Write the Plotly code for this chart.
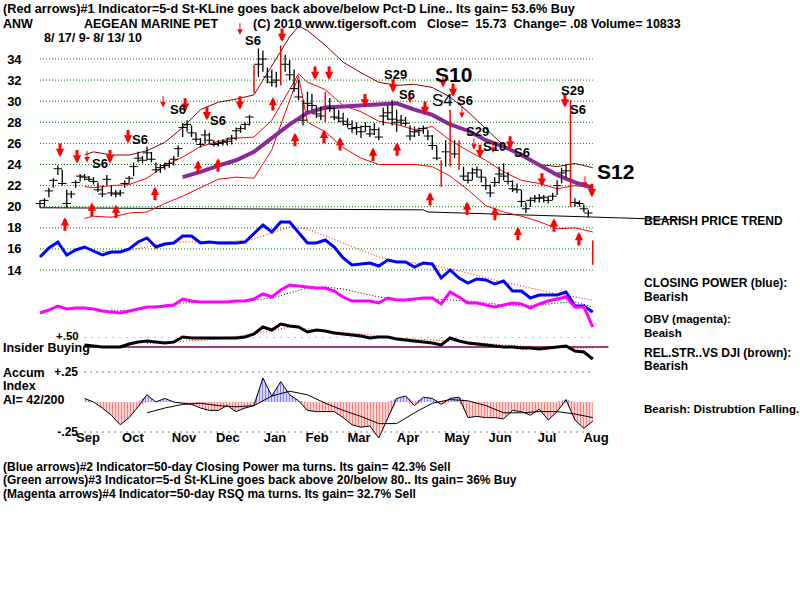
import plotly.graph_objects as go

FONT = "Liberation Sans, Arial, sans-serif"
FONT_W = "Liberation Sans, Arial, sans-serif"

# ---------------- data ----------------
months = ["Sep", "Oct", "Nov", "Dec", "Jan", "Feb", "Mar", "Apr", "May", "Jun", "Jul", "Aug"]
month_days = [21.5, 41.7, 64.6, 84.3, 105.4, 124.3, 143.1, 165.1, 187.1, 206.4, 227.5, 249.5]
price_ticks = [14, 16, 18, 20, 22, 24, 26, 28, 30, 32, 34]

# price bars, one per two trading days (day index = 2*i)
bar_high = [20.6, 20.8, 21.8, 22.7, 23.9, 23.5, 21.6, 21.5, 22.5, 23.1,
            23.1, 22.9, 22.8, 22.3, 22.0, 23.0, 22.0, 21.6, 21.6, 22.5,
            22.9, 24.2, 25.2, 24.8, 25.7, 25.2, 24.2, 24.0, 24.2, 24.4,
            24.8, 25.8, 27.9, 28.2, 27.7, 27.0, 26.5, 27.3, 27.0, 26.3,
            26.3, 26.4, 26.5, 26.8, 27.5, 27.7, 28.0, 28.7, 33.4, 35.0,
            34.8, 33.2, 33.0, 32.8, 35.3, 34.4, 33.9, 33.0, 32.0, 30.1,
            30.9, 30.7, 29.6, 29.5, 30.9, 30.3, 29.4, 29.2, 28.9, 28.4,
            28.2, 28.0, 27.7, 28.0, 27.7, 27.9, 27.5, 29.4, 29.6, 30.1,
            29.2, 28.7, 28.5, 27.7, 27.6, 27.5, 27.7, 27.3, 26.8, 25.8,
            24.4, 26.3, 29.2, 26.3, 26.3, 23.8, 23.3, 23.7, 23.8, 23.5,
            22.8, 22.1, 22.8, 23.8, 24.1, 23.3, 22.5, 22.2, 21.6, 20.4,
            20.9, 21.1, 21.2, 21.1, 21.0, 21.3, 22.5, 23.7, 24.0, 30.1,
            20.8, 20.6, 20.2, 19.7, 16.8]
bar_low = [19.9, 20.0, 20.9, 21.8, 23.0, 22.0, 19.9, 20.8, 21.8, 22.4,
           22.5, 22.4, 22.1, 21.4, 20.9, 22.0, 21.0, 20.9, 21.0, 21.8,
           22.2, 22.9, 24.2, 24.1, 24.4, 24.2, 23.2, 23.2, 23.5, 23.7,
           23.9, 24.7, 26.6, 27.1, 26.6, 26.1, 25.6, 26.0, 26.0, 25.7,
           25.7, 25.8, 25.8, 25.9, 26.3, 27.0, 27.3, 27.7, 30.8, 32.3,
           32.8, 31.7, 31.4, 31.3, 31.5, 32.8, 32.0, 30.9, 30.1, 27.7,
           29.0, 29.2, 28.4, 28.2, 28.0, 29.0, 28.2, 28.0, 27.7, 27.5,
           27.0, 26.8, 26.5, 27.1, 26.6, 26.8, 26.3, 27.7, 28.2, 27.7,
           27.1, 27.7, 27.6, 26.3, 26.6, 26.7, 26.9, 26.3, 25.4, 24.4,
           21.9, 23.8, 23.8, 24.6, 23.5, 22.5, 22.2, 22.5, 22.8, 22.3,
           21.6, 20.9, 21.9, 22.2, 22.5, 22.1, 21.4, 21.3, 20.0, 19.4,
           20.0, 20.4, 20.4, 20.4, 20.3, 20.6, 21.1, 22.2, 22.8, 20.0,
           20.0, 20.0, 19.5, 19.0, 14.5]
bar_close = [20.3, 20.6, 21.5, 22.5, 23.6, 22.2, 20.3, 21.2, 22.3, 22.9,
             22.8, 22.6, 22.4, 21.6, 21.2, 22.6, 21.3, 21.2, 21.3, 22.2,
             22.7, 23.8, 24.6, 24.4, 25.1, 24.5, 23.5, 23.7, 23.9, 24.1,
             24.5, 25.5, 27.5, 27.8, 27.0, 26.4, 25.9, 26.8, 26.3, 25.9,
             26.0, 26.1, 26.2, 26.5, 27.2, 27.4, 27.8, 28.5, 32.8, 33.5,
             34.0, 32.3, 31.8, 32.0, 33.2, 33.5, 32.5, 31.2, 30.4, 28.2,
             29.8, 29.6, 28.8, 28.6, 30.2, 29.3, 28.5, 28.4, 28.1, 27.8,
             27.4, 27.5, 27.1, 27.6, 26.9, 27.3, 26.6, 28.6, 28.9, 28.3,
             28.0, 28.2, 27.9, 26.7, 27.1, 27.2, 27.4, 26.7, 25.8, 24.6,
             22.5, 25.2, 26.5, 25.0, 23.8, 22.9, 22.5, 23.2, 23.5, 22.8,
             22.0, 21.3, 22.3, 23.1, 22.9, 22.4, 21.7, 21.6, 20.5, 19.8,
             20.6, 20.8, 20.8, 20.9, 20.6, 21.0, 22.0, 23.2, 23.4, 20.8,
             20.4, 20.3, 19.8, 19.4, 15.73]
red_bar_idx = [48, 54, 64, 90, 92, 94, 119, 124]

# bands and moving average on the price panel
band_days = [20, 24, 32, 40, 48, 56, 64, 72, 80, 88, 96, 104, 112, 116, 120, 128,
             136, 144, 152, 160, 168, 176, 184, 192, 200, 208, 216, 224, 232, 240, 248]
brown_band = [24.9, 25.2, 24.9, 24.9, 25.3, 26.1, 27.5, 29.2, 29.9, 30.2, 30.6, 33.4, 36.1, 37.1, 36.7, 35.3,
              33.7, 32.7, 31.8, 31.5, 31.6, 31.3, 30.4, 29.0, 27.4, 25.8, 24.9, 24.0, 23.8, 24.1, 23.7]
red_upper = [21.9, 21.8, 22.0, 22.1, 22.7, 23.9, 24.7, 25.7, 26.2, 26.5, 26.6, 28.2, 31.1, 32.6, 31.8, 31.1,
             29.6, 29.0, 28.1, 27.8, 27.3, 27.6, 26.3, 25.3, 24.4, 23.3, 22.5, 22.2, 21.7, 22.0, 21.8]
red_lower = [18.9, 19.1, 19.0, 19.4, 19.5, 20.3, 21.0, 21.8, 22.6, 22.8, 22.7, 25.4, 30.1, 32.4, 28.0, 27.1,
             25.6, 24.6, 24.0, 24.0, 24.0, 23.8, 22.9, 21.6, 20.1, 19.5, 19.1, 18.6, 17.9, 18.0, 17.6]
ma50_days = [64, 72, 80, 88, 96, 104, 112, 120, 128, 136, 144, 152, 160, 168, 176, 184,
             192, 200, 208, 216, 224, 232, 240, 248]
ma50_vals = [22.8, 23.3, 23.9, 24.4, 25.2, 26.5, 27.8, 28.9, 29.4, 29.5, 29.6, 29.7, 29.8, 29.2, 28.7, 27.8,
             27.2, 26.3, 25.7, 24.9, 23.9, 23.0, 22.3, 21.8]
trend_days = [0, 172, 174, 289]
trend_vals = [19.9, 19.7, 19.5, 18.75]

# signal arrows
down_days = [9.0, 16.6, 31.4, 39.5, 65.1, 74.9, 89.7, 108.6, 123.4, 129.7, 145.8, 158.4, 172.7, 185.3,
             197.4, 210.9, 225.2, 235.5, 247.6]
down_prices = [24.7, 24.1, 24.1, 26.0, 29.0, 28.2, 29.2, 35.6, 32.0, 32.0, 29.4, 30.8, 28.7, 30.4,
               24.6, 25.4, 21.9, 29.4, 20.9]
thin_days = [21.1, 55.2, 89.7, 166.0, 180.8, 189.3, 194.7, 203.2, 244.5]
thin_prices = [24.2, 29.4, 36.3, 29.8, 31.3, 28.4, 25.4, 25.1, 21.8]
up_days = [11.2, 23.3, 34.1, 51.6, 70.9, 79.9, 104.5, 114.4, 127.4, 134.6, 149.4, 160.2, 175.0, 191.6,
           204.1, 214.4, 230.6, 241.8]
up_prices = [19.0, 20.4, 20.2, 21.9, 24.4, 24.6, 30.4, 27.0, 27.3, 26.6, 25.6, 26.1, 21.4, 20.5,
             20.0, 18.1, 18.9, 17.6]

sig_text = ["S6", "S6", "S6", "S6", "S6", "S29", "S6", "S10", "S4", "S6", "S29", "S10", "S6", "S29", "S6", "S12"]
sig_days = [26.9, 44.9, 61.9, 79.9, 95.6, 159.3, 164.6, 185.3, 180.8, 190.7, 196.1, 204.1, 216.2, 239.1, 241.4, 258.0]
sig_prices = [24.1, 26.4, 29.2, 28.2, 35.8, 32.5, 30.6, 32.5, 30.1, 30.1, 27.1, 25.7, 25.1, 31.0, 29.2, 23.3]

# closing power (blue), every 4 trading days from day 0
cp_vals = [63, 72, 78, 65, 70, 73, 69, 65, 68, 68, 71, 78, 82, 73, 76, 77, 84, 84, 77, 78,
           77, 77, 77, 78, 87, 95, 88, 98, 98, 87, 77, 77, 80, 73, 62, 55, 56, 57, 54, 60,
           58, 58, 53, 57, 56, 42, 50, 42, 37, 41, 40, 36, 39, 29, 29, 22, 25, 25, 25, 28,
           14, 14, 8]
cp_ma = [69, 68, 70, 73, 77, 78, 78, 78, 79, 81, 87, 93, 91, 84, 77, 70, 63, 59, 57, 55,
         51, 47, 42, 38, 34, 30, 26, 23, 20]          # days 24..248 step 8
# OBV (magenta), every 4 trading days from day 0
obv_vals = [27, 30, 34, 31, 32, 32, 31, 29, 28, 27, 29, 31, 33, 33, 34, 35, 41, 39, 38, 38,
            38, 38, 39, 39, 41, 46, 43, 50, 55, 54, 53, 52, 52, 49, 43, 39, 39, 39, 37, 42,
            40, 40, 41, 42, 42, 36, 48, 43, 37, 37, 35, 33, 35, 37, 36, 32, 36, 39, 41, 43,
            33, 33, 13]
obv_ma = [30, 29, 32, 35, 37, 38, 38, 39, 40, 42, 47, 52, 53, 51, 47, 43, 40, 41, 41, 40,
          39, 37, 35, 34, 35, 37, 38, 33]              # days 32..248 step 8
# relative strength vs DJI, every 4 trading days from day 20
rs_vals = [20, 19, 18, 18, 18, 21, 23, 24, 23, 22, 23, 28, 27, 27, 27, 27, 27, 27, 28, 31,
           38, 35, 41, 39, 38, 33, 35, 34, 32, 31, 30, 29, 27, 28, 28, 26, 25, 24, 23, 22,
           20, 27, 24, 22, 21, 20, 19, 18, 18, 17, 17, 16, 17, 18, 19, 14, 13, 6]
rs_ma_days = [48, 64, 80, 96, 112, 128, 144, 160, 176, 192, 208, 224, 240, 248]
rs_ma = [21.5, 24, 26, 31, 38, 34, 31, 27, 25, 23, 20, 18, 17, 17]
insider_level = 18
plus50_level = 27.5
# accumulation index, every 4 trading days from day 20
ai_vals = [0.03, 0.0, -0.05, -0.11, -0.19, -0.13, -0.04, 0.06, 0.0, 0.03,
           0.0, -0.01, -0.02, -0.05, -0.07, -0.07, -0.03, -0.08, -0.05, -0.03,
           0.2, 0.05, 0.17, 0.06, 0.01, -0.07, -0.08, -0.08, -0.08, -0.13,
           -0.19, -0.21, -0.2, -0.3, -0.14, 0.03, 0.05, -0.03, 0.04, 0.03,
           -0.02, 0.03, 0.04, -0.13, -0.12, -0.13, -0.13, -0.14, -0.07, -0.08,
           -0.11, -0.06, -0.15, -0.08, 0.02, -0.15, -0.22, -0.16]
ai_ma = [-0.09, -0.05, -0.02, -0.01, -0.03, -0.04, -0.03, 0.05, 0.09, 0.06, -0.01, -0.07, -0.12,
         -0.18, -0.18, -0.09, -0.01, 0.02, 0.01, -0.03, -0.09, -0.09, -0.08, -0.08, -0.1, -0.13]  # days 48..248 step 8
ai_levels = [0.25, -0.25]

# ---------------- figure ----------------
bar_days = [2 * i for i in range(len(bar_close))]
d4_all = [4 * k for k in range(len(cp_vals))]
d4_from20 = [20 + 4 * k for k in range(len(rs_vals))]
cp_ma_days = [24 + 8 * k for k in range(len(cp_ma))]
obv_ma_days = [32 + 8 * k for k in range(len(obv_ma))]
ai_ma_days = [48 + 8 * k for k in range(len(ai_ma))]
last_day = bar_days[-1]

fig = go.Figure()


def line(x, y, color, width=1, dash="solid", yaxis="y"):
    fig.add_trace(go.Scatter(x=x, y=y, mode="lines", yaxis=yaxis, hoverinfo="skip",
                             line=dict(color=color, width=width, dash=dash)))


# green dotted price grid
for lvl in price_ticks:
    line([0, last_day], [lvl, lvl], "#008000", 1, "1px,2px")

# price trend line, bands, 50-day ma
line(trend_days, trend_vals, "black", 1)
line(band_days, brown_band, "#800000", 1)
line(band_days, red_upper, "#ff0000", 1)
line(band_days, red_lower, "#ff0000", 1)
line(ma50_days, ma50_vals, "#8a2a9a", 4)


def bar_segments(idx):
    xs, ys = [], []
    for i in idx:
        xs += [bar_days[i], bar_days[i], None]
        ys += [bar_low[i], bar_high[i], None]
    return xs, ys


black_idx = [i for i in range(len(bar_close)) if i not in red_bar_idx]
bx, by = bar_segments(black_idx)
line(bx, by, "black", 1.3)
fig.add_trace(go.Scatter(x=[bar_days[i] for i in black_idx], y=[bar_close[i] for i in black_idx],
                         mode="markers", hoverinfo="skip",
                         marker=dict(symbol="line-ew", size=6, line=dict(color="black", width=1))))
rx, ry = bar_segments(red_bar_idx)
line(rx, ry, "#ff0000", 1.5)

# closing power
line(cp_ma_days, cp_ma, "#ff0000", 1, "1px,2px", "y2")
line(d4_all, cp_vals, "#0000ff", 3, "solid", "y2")
# OBV
line(obv_ma_days, obv_ma, "black", 1, "1px,2px", "y3")
line(d4_all, obv_vals, "#ff00ff", 3, "solid", "y3")
# relative strength
line([20, last_day + 7], [insider_level, insider_level], "#800050", 1.5, "solid", "y4")
line([20, last_day], [plus50_level, plus50_level], "#888888", 1, "1px,6px", "y4")
line(rs_ma_days, rs_ma, "#ff0000", 1, "1px,2px", "y4")
line(d4_from20, rs_vals, "black", 3, "solid", "y4")

# accumulation index
for lvl in ai_levels:
    line([20, last_day], [lvl, lvl], "#555555", 1.5, "1px,5px", "y5")
ai_neg = [min(v, 0) for v in ai_vals]
ai_pos = [max(v, 0) for v in ai_vals]
fig.add_trace(go.Scatter(x=d4_from20, y=ai_neg, mode="lines", yaxis="y5", fill="tozeroy", hoverinfo="skip",
                         line=dict(width=0, color="red"), fillcolor="rgba(0,0,0,0)",
                         fillpattern=dict(shape="|", fgcolor="#ff0000", bgcolor="white", size=3, solidity=0.55)))
fig.add_trace(go.Scatter(x=d4_from20, y=ai_pos, mode="lines", yaxis="y5", fill="tozeroy", hoverinfo="skip",
                         line=dict(width=0, color="blue"), fillcolor="rgba(0,0,0,0)",
                         fillpattern=dict(shape="|", fgcolor="#0000ff", bgcolor="white", size=3, solidity=0.55)))
line(d4_from20, ai_vals, "black", 1, "solid", "y5")
line(ai_ma_days, ai_ma, "black", 1, "solid", "y5")

# ---------------- annotations ----------------
ann = []


def ptext(txt, x, y, size=13, bold=True, family=FONT, anchor="left"):
    ann.append(dict(text=txt, x=x / 800, y=1 - y / 600, xref="paper", yref="paper",
                    xanchor=anchor, yanchor="middle", showarrow=False, borderpad=0,
                    font=dict(family=family, size=size, color="black",
                              weight="bold" if bold else "normal")))


for d, p in zip(down_days, down_prices):
    ann.append(dict(x=d, y=p, xref="x", yref="y", text="", showarrow=True, ax=0, ay=-15,
                    arrowhead=2, arrowsize=0.55, arrowwidth=3, arrowcolor="#ff0000", standoff=0))
for d, p in zip(up_days, up_prices):
    ann.append(dict(x=d, y=p, xref="x", yref="y", text="", showarrow=True, ax=0, ay=15,
                    arrowhead=2, arrowsize=0.55, arrowwidth=3, arrowcolor="#ff0000", standoff=0))
for d, p in zip(thin_days, thin_prices):
    ann.append(dict(x=d, y=p, xref="x", yref="y", text="", showarrow=True, ax=0, ay=-13,
                    arrowhead=2, arrowsize=1.1, arrowwidth=1, arrowcolor="#ff0000", standoff=0))

for k, (t, d, p) in enumerate(zip(sig_text, sig_days, sig_prices)):
    big = (k == 7 or t == "S12")
    size = 21 if big else (17 if t == "S4" else 13)
    ann.append(dict(text=t, x=d, y=p, xref="x", yref="y", showarrow=False, xanchor="center",
                    yanchor="middle", borderpad=0,
                    font=dict(family=FONT_W, size=size, color="black",
                              weight="normal" if t == "S4" else "bold")))

ptext("(Red arrows)#1 Indicator=5-d St-KLine goes back above/below Pct-D Line.. Its gain= 53.6% Buy", 2, 9, 12.7)
ptext("ANW", 2, 24, 12.5)
ptext("AEGEAN MARINE PET", 83, 24, 12.5)
ptext("(C) 2010 www.tigersoft.com", 252, 24, 12.5)
ptext("Close=\u00a0 15.73\u00a0 Change= .08 Volume= 10833", 426, 24, 12.5)
ptext("8/ 17/ 9- 8/ 13/ 10", 43, 38, 12.5)

ptext("BEARISH PRICE TREND", 643, 221, 12)
ptext("CLOSING POWER (blue):", 643, 283, 12)
ptext("Bearish", 643, 297, 12)
ptext("OBV (magenta):", 643, 319, 11.5)
ptext("Beaish", 643, 333, 11.5)
ptext("REL.STR..VS DJI (brown):", 643, 353, 12)
ptext("Bearish", 643, 366, 12)
ptext("Bearish: Distrubtion Falling.", 643, 408, 11.6)

ptext("+.50", 55, 336, size=11.5)
ptext("Insider Buying", 2, 348, 12.5)
ptext("Accum", 2, 373, 12.5)
ptext("Index", 2, 386, 12.5)
ptext("AI= 42/200", 2, 400, 12.5)

ptext("(Blue arrows)#2 Indicator=50-day Closing Power ma turns. Its gain= 42.3% Sell", 2, 467, 12)
ptext("(Green arrows)#3 Indicator=5-d St-KLine goes back above 20/below 80.. Its gain= 36% Buy", 2, 480, 12)
ptext("(Magenta arrows)#4 Indicator=50-day RSQ ma turns. Its gain= 32.7% Sell", 2, 494, 12)

tickfont = dict(family=FONT, size=13, color="black", weight="bold")
fig.update_layout(
    width=800, height=600, margin=dict(l=0, r=0, t=0, b=0, pad=0),
    paper_bgcolor="white", plot_bgcolor="white", showlegend=False,
    annotations=ann,
    xaxis=dict(range=[-17.946, 340.97], domain=[0, 1], showgrid=False, zeroline=False, showline=False,
               ticks="", tickvals=month_days, ticktext=months, tickfont=tickfont,
               anchor="free", position=0.2867, fixedrange=True),
    yaxis=dict(range=[-17.2796, 39.5924], domain=[0, 1], showgrid=False, zeroline=False, showline=False,
               ticks="", tickvals=price_ticks, tickfont=dict(family=FONT, size=13, color="black", weight="bold"),
               anchor="free", position=0.027, fixedrange=True),
    yaxis2=dict(range=[-280, 320], overlaying="y", visible=False, fixedrange=True),
    yaxis3=dict(range=[-260, 340], overlaying="y", visible=False, fixedrange=True),
    yaxis4=dict(range=[-235, 365], overlaying="y", visible=False, fixedrange=True),
    yaxis5=dict(range=[-1.65, 3.35], overlaying="y", showgrid=False, zeroline=False, showline=False,
                ticks="", tickvals=ai_levels, ticktext=["+.25", "-.25"],
                tickfont=dict(family=FONT, size=12, color="black", weight="bold"),
                anchor="free", position=78 / 800, fixedrange=True),
)

fig.write_html("out.html")
